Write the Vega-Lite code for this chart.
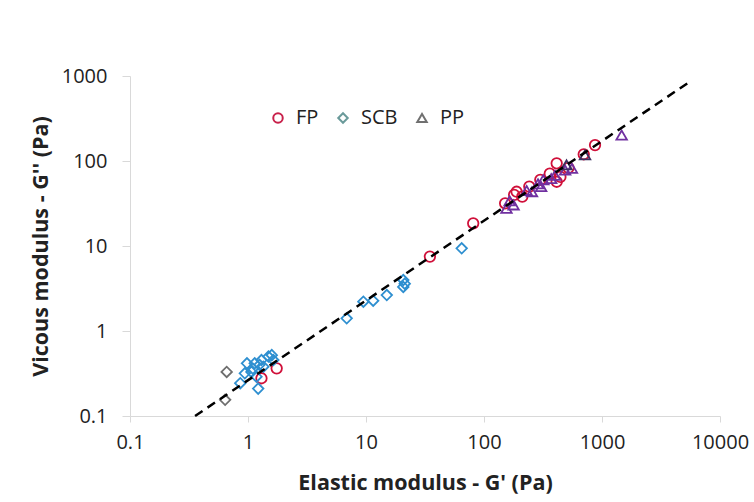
{
  "$schema": "https://vega.github.io/schema/vega-lite/v6.json",
  "width": 590,
  "height": 340,
  "autosize": "none",
  "padding": {"left": 130, "top": 76, "right": 34, "bottom": 86},
  "background": "white",
  "config": {
    "view": {"stroke": null},
    "font": "Open Sans",
    "axis": {
      "grid": false,
      "domainColor": "#d9d9d9",
      "tickColor": "#d9d9d9",
      "labelFont": "Open Sans",
      "labelFontSize": 20,
      "labelColor": "#222222",
      "titleFont": "Open Sans",
      "titleFontSize": 21.5,
      "titleFontWeight": "bold",
      "titleColor": "#222222"
    },
    "legend": {
      "orient": "none",
      "direction": "horizontal",
      "legendX": 138,
      "legendY": 32,
      "labelFont": "Open Sans",
      "labelFontSize": 20,
      "labelColor": "#222222",
      "symbolSize": 90,
      "symbolStrokeWidth": 2,
      "symbolOpacity": 1,
      "columnPadding": 14,
      "labelOffset": 8
    }
  },
  "datasets": {
    "pts": [
      {"Gp": 0.66, "Gpp": 0.33, "type": "SCB", "sample": "SCB-b"},
      {"Gp": 0.64, "Gpp": 0.155, "type": "SCB", "sample": "SCB-b"},
      {"Gp": 1.30, "Gpp": 0.278, "type": "FP", "sample": "FP"},
      {"Gp": 1.75, "Gpp": 0.364, "type": "FP", "sample": "FP"},
      {"Gp": 34.8, "Gpp": 7.5, "type": "FP", "sample": "FP"},
      {"Gp": 81, "Gpp": 18.5, "type": "FP", "sample": "FP"},
      {"Gp": 151, "Gpp": 31.8, "type": "FP", "sample": "FP"},
      {"Gp": 189, "Gpp": 43.5, "type": "FP", "sample": "FP"},
      {"Gp": 211, "Gpp": 38, "type": "FP", "sample": "FP"},
      {"Gp": 242, "Gpp": 50, "type": "FP", "sample": "FP"},
      {"Gp": 361, "Gpp": 71, "type": "FP", "sample": "FP"},
      {"Gp": 413, "Gpp": 94, "type": "FP", "sample": "FP"},
      {"Gp": 444, "Gpp": 65, "type": "FP", "sample": "FP"},
      {"Gp": 520, "Gpp": 83, "type": "FP", "sample": "FP"},
      {"Gp": 413, "Gpp": 57, "type": "FP", "sample": "FP"},
      {"Gp": 873, "Gpp": 154, "type": "FP", "sample": "FP"},
      {"Gp": 700, "Gpp": 120, "type": "FP", "sample": "FP"},
      {"Gp": 300, "Gpp": 60, "type": "FP", "sample": "FP"},
      {"Gp": 180, "Gpp": 40, "type": "FP", "sample": "FP"},
      {"Gp": 0.86, "Gpp": 0.243, "type": "SCB", "sample": "SCB-a"},
      {"Gp": 0.94, "Gpp": 0.318, "type": "SCB", "sample": "SCB-a"},
      {"Gp": 0.98, "Gpp": 0.417, "type": "SCB", "sample": "SCB-a"},
      {"Gp": 1.07, "Gpp": 0.33, "type": "SCB", "sample": "SCB-a"},
      {"Gp": 1.14, "Gpp": 0.417, "type": "SCB", "sample": "SCB-a"},
      {"Gp": 1.18, "Gpp": 0.29, "type": "SCB", "sample": "SCB-a"},
      {"Gp": 1.22, "Gpp": 0.21, "type": "SCB", "sample": "SCB-a"},
      {"Gp": 1.30, "Gpp": 0.455, "type": "SCB", "sample": "SCB-a"},
      {"Gp": 1.35, "Gpp": 0.38, "type": "SCB", "sample": "SCB-a"},
      {"Gp": 1.49, "Gpp": 0.50, "type": "SCB", "sample": "SCB-a"},
      {"Gp": 1.59, "Gpp": 0.52, "type": "SCB", "sample": "SCB-a"},
      {"Gp": 1.64, "Gpp": 0.455, "type": "SCB", "sample": "SCB-a"},
      {"Gp": 1.10, "Gpp": 0.36, "type": "SCB", "sample": "SCB-a"},
      {"Gp": 1.25, "Gpp": 0.40, "type": "SCB", "sample": "SCB-a"},
      {"Gp": 6.86, "Gpp": 1.41, "type": "SCB", "sample": "SCB-a"},
      {"Gp": 9.5, "Gpp": 2.21, "type": "SCB", "sample": "SCB-a"},
      {"Gp": 11.5, "Gpp": 2.27, "type": "SCB", "sample": "SCB-a"},
      {"Gp": 15.0, "Gpp": 2.65, "type": "SCB", "sample": "SCB-a"},
      {"Gp": 20.7, "Gpp": 3.98, "type": "SCB", "sample": "SCB-a"},
      {"Gp": 21.3, "Gpp": 3.6, "type": "SCB", "sample": "SCB-a"},
      {"Gp": 20.7, "Gpp": 3.3, "type": "SCB", "sample": "SCB-a"},
      {"Gp": 64.7, "Gpp": 9.4, "type": "SCB", "sample": "SCB-a"},
      {"Gp": 155, "Gpp": 27.7, "type": "PP", "sample": "PP-a"},
      {"Gp": 178, "Gpp": 30.4, "type": "PP", "sample": "PP-a"},
      {"Gp": 165, "Gpp": 34, "type": "PP", "sample": "PP-a"},
      {"Gp": 230, "Gpp": 45, "type": "PP", "sample": "PP-a"},
      {"Gp": 255, "Gpp": 43.5, "type": "PP", "sample": "PP-a"},
      {"Gp": 287, "Gpp": 54, "type": "PP", "sample": "PP-a"},
      {"Gp": 305, "Gpp": 50, "type": "PP", "sample": "PP-a"},
      {"Gp": 318, "Gpp": 60, "type": "PP", "sample": "PP-a"},
      {"Gp": 371, "Gpp": 62, "type": "PP", "sample": "PP-a"},
      {"Gp": 400, "Gpp": 68, "type": "PP", "sample": "PP-a"},
      {"Gp": 487, "Gpp": 78, "type": "PP", "sample": "PP-a"},
      {"Gp": 556, "Gpp": 82, "type": "PP", "sample": "PP-a"},
      {"Gp": 1468, "Gpp": 202, "type": "PP", "sample": "PP-a"},
      {"Gp": 718, "Gpp": 118, "type": "PP", "sample": "PP-b"},
      {"Gp": 500, "Gpp": 90, "type": "PP", "sample": "PP-b"}
    ],
    "fit": [
      {"Gp": 0.356, "Gpp": 0.1},
      {"Gp": 5360, "Gpp": 830}
    ]
  },
  "resolve": {"scale": {"color": "independent", "shape": "independent"}, "legend": {"color": "independent", "shape": "independent"}},
  "layer": [
    {
      "data": {"name": "pts"},
      "mark": {"type": "point", "filled": false, "size": 110, "strokeWidth": 1.8, "opacity": 0},
      "encoding": {
        "x": {
          "field": "Gp", "type": "quantitative",
          "scale": {"type": "log", "domain": [0.1, 10000]},
          "axis": {
            "title": "Elastic modulus - G' (Pa)",
            "values": [0.1, 1, 10, 100, 1000, 10000],
            "labelExpr": "format(datum.value, '~g')",
            "tickSize": 6, "labelPadding": 10, "titlePadding": 20,
            "labelFlush": false, "labelOverlap": false
          }
        },
        "y": {
          "field": "Gpp", "type": "quantitative",
          "scale": {"type": "log", "domain": [0.1, 1000]},
          "axis": {
            "title": "Vicous modulus - G'' (Pa)",
            "values": [0.1, 1, 10, 100, 1000],
            "labelExpr": "format(datum.value, '~g')",
            "tickSize": 8, "labelPadding": 15, "titlePadding": 9,
            "labelFlush": false, "labelOverlap": false
          }
        },
        "shape": {
          "field": "type", "type": "nominal",
          "scale": {"domain": ["FP", "SCB", "PP"], "range": ["circle", "diamond", "triangle-up"]},
          "legend": {"title": null}
        },
        "color": {
          "field": "type", "type": "nominal",
          "scale": {"domain": ["FP", "SCB", "PP"], "range": ["#c8204a", "#6a9a9a", "#707070"]},
          "legend": {"title": null}
        }
      }
    },
    {
      "data": {"name": "pts"},
      "mark": {"type": "point", "filled": false, "size": 110, "strokeWidth": 1.8, "opacity": 1},
      "encoding": {
        "x": {"field": "Gp", "type": "quantitative"},
        "y": {"field": "Gpp", "type": "quantitative"},
        "shape": {
          "field": "type", "type": "nominal",
          "scale": {"domain": ["FP", "SCB", "PP"], "range": ["circle", "diamond", "triangle-up"]},
          "legend": null
        },
        "color": {
          "field": "sample", "type": "nominal",
          "scale": {
            "domain": ["SCB-b", "SCB-a", "PP-a", "PP-b", "FP"],
            "range": ["#6e6e6e", "#2e8fd0", "#7030a0", "#3c3060", "#d0103a"]
          },
          "legend": null
        }
      }
    },
    {
      "data": {"name": "fit"},
      "mark": {"type": "line", "color": "#000000", "strokeWidth": 2.5, "strokeDash": [9, 6]},
      "encoding": {
        "x": {"field": "Gp", "type": "quantitative"},
        "y": {"field": "Gpp", "type": "quantitative"}
      }
    }
  ]
}
